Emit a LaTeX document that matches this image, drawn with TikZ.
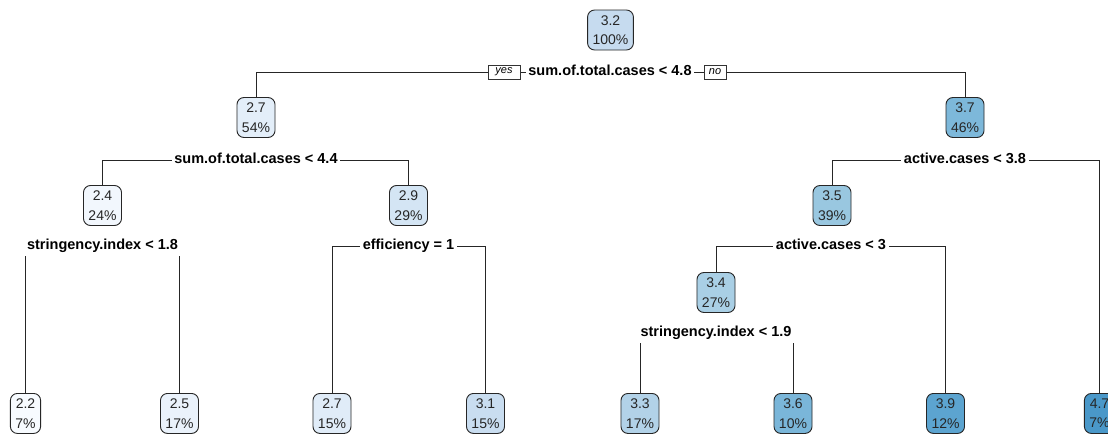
\documentclass[tikz,border=0pt]{standalone}
\usepackage{fontspec}
\setmainfont{Liberation Sans}
\usetikzlibrary{backgrounds}
\definecolor{cA}{HTML}{C6DBEF}
\definecolor{cB}{HTML}{E3EEF9}
\definecolor{cC}{HTML}{7DB8DA}
\definecolor{cD}{HTML}{F2F7FD}
\definecolor{cE}{HTML}{D4E5F4}
\definecolor{cF}{HTML}{99C7E0}
\definecolor{cG}{HTML}{A9CFE5}
\definecolor{lA}{HTML}{F7FBFF}
\definecolor{lB}{HTML}{EAF2FB}
\definecolor{lC}{HTML}{E0ECF8}
\definecolor{lD}{HTML}{C9DDF0}
\definecolor{lE}{HTML}{B2D2E8}
\definecolor{lF}{HTML}{7AB6D9}
\definecolor{lG}{HTML}{5CA4D0}
\definecolor{lH}{HTML}{4A98C9}
\begin{document}
\begin{tikzpicture}[x=1pt,y=-1pt,
  tnode/.style={draw=black!85, line width=0.9pt, rounded corners=7pt, minimum height=40pt,
    inner xsep=5pt, inner ysep=0pt, align=center, font=\fontsize{14}{19.5}\selectfont, text=black!85},
  leaf/.style={tnode, anchor=north},
  splitlbl/.style={fill=white, inner xsep=2.5pt, inner ysep=3pt,
    font=\fontsize{14.5}{17}\selectfont\bfseries, text height=10.5pt, text depth=3pt},
  yn/.style={draw=black!80, fill=white, line width=0.6pt, font=\fontsize{11}{13}\selectfont\itshape,
    inner xsep=3pt, inner ysep=1.5pt, minimum height=14pt},
  conn/.style={draw=black!85, line width=1pt}]
\useasboundingbox (0,0) rectangle (1108,434);
% internal nodes
\node[tnode, fill=cA] (n0) at (610.5,30) {3.2\\100\%};
\node[tnode, fill=cB] (n1) at (256,117.5) {2.7\\54\%};
\node[tnode, fill=cC] (n2) at (965,117.5) {3.7\\46\%};
\node[tnode, fill=cD] (n3) at (102.5,205.5) {2.4\\24\%};
\node[tnode, fill=cE] (n4) at (408.5,205.5) {2.9\\29\%};
\node[tnode, fill=cF] (n5) at (832,205.5) {3.5\\39\%};
\node[tnode, fill=cG] (n6) at (716,292.5) {3.4\\27\%};
% leaves
\node[leaf, fill=lA] (f1) at (25.5,393) {2.2\\7\%};
\node[leaf, fill=lB] (f2) at (179.5,393) {2.5\\17\%};
\node[leaf, fill=lC] (f3) at (332,393) {2.7\\15\%};
\node[leaf, fill=lD] (f4) at (485.5,393) {3.1\\15\%};
\node[leaf, fill=lE] (f5) at (640,393) {3.3\\17\%};
\node[leaf, fill=lF] (f6) at (793,393) {3.6\\10\%};
\node[leaf, fill=lG] (f7) at (945.5,393) {3.9\\12\%};
\node[leaf, fill=lH] (f8) at (1099.5,393) {4.7\\7\%};
% split labels
\node[splitlbl] (s0) at (610,72) {sum.of.total.cases < 4.8};
\node[splitlbl] (s1) at (256,160) {sum.of.total.cases < 4.4};
\node[splitlbl] (s2) at (965,160) {active.cases < 3.8};
\node[splitlbl] (s3) at (102.5,246) {stringency.index < 1.8};
\node[splitlbl] (s4) at (408.5,246) {efficiency = 1};
\node[splitlbl] (s5) at (831,246) {active.cases < 3};
\node[splitlbl] (s6) at (716,333) {stringency.index < 1.9};
\node[yn, minimum width=32pt] (yes) at (504,72) {yes};
\node[yn, minimum width=22pt] (no) at (715,72) {no};
\begin{scope}[on background layer]
\fill[white] (0,0) rectangle (1108,434);
\draw[conn] (s0.center) -| (n1.north);
\draw[conn] (s0.center) -| (n2.north);
\draw[conn] (s1.center) -| (n3.north);
\draw[conn] (s1.center) -| (n4.north);
\draw[conn] (s2.center) -| (n5.north);
\draw[conn] (s2.center) -| (f8.north);
\draw[conn] (s3.center) -| (f1.north);
\draw[conn] (s3.center) -| (f2.north);
\draw[conn] (s4.center) -| (f3.north);
\draw[conn] (s4.center) -| (f4.north);
\draw[conn] (s5.center) -| (n6.north);
\draw[conn] (s5.center) -| (f7.north);
\draw[conn] (s6.center) -| (f5.north);
\draw[conn] (s6.center) -| (f6.north);
\end{scope}
\end{tikzpicture}
\end{document}
